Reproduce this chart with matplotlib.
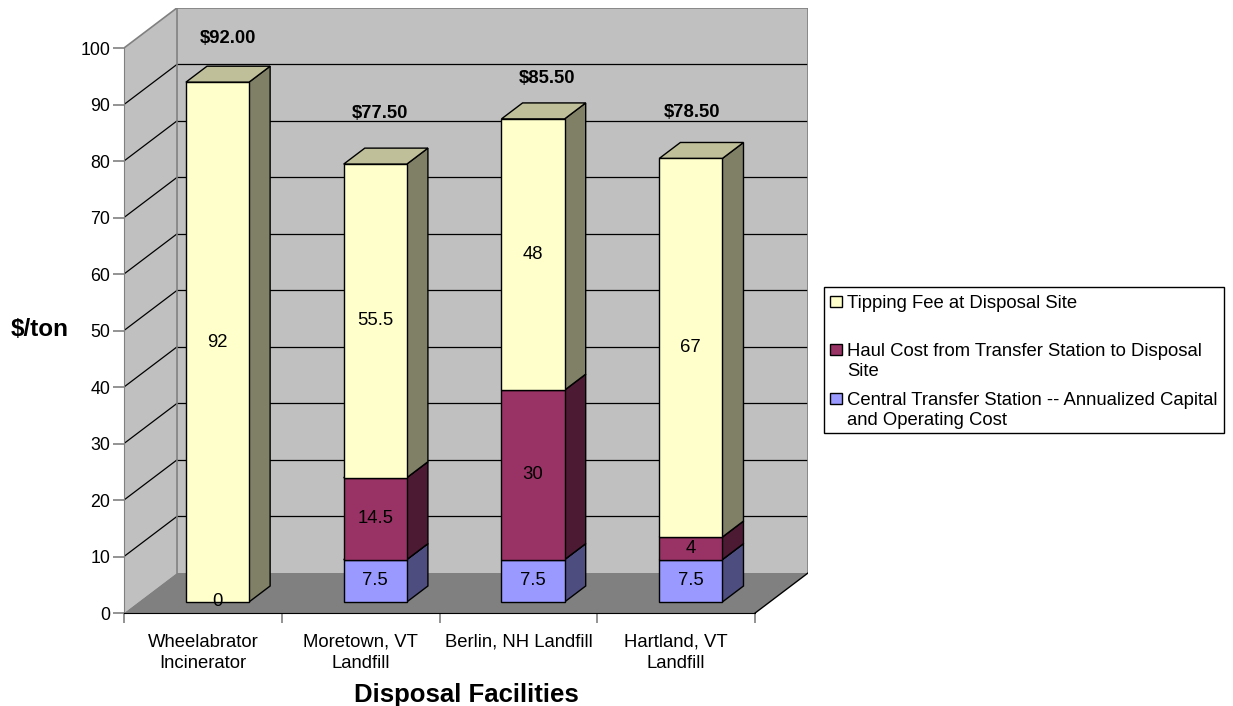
import numpy as np
import matplotlib.pyplot as plt
from matplotlib.patches import Polygon, Rectangle
from matplotlib.colors import to_rgb

plt.rcParams['font.family'] = ['Liberation Sans', 'DejaVu Sans']

categories = ["Wheelabrator\nIncinerator", "Moretown, VT\nLandfill",
              "Berlin, NH Landfill", "Hartland, VT\nLandfill"]
central = [np.nan, 7.5, 7.5, 7.5]
haul = [0, 14.5, 30, 4]
tipping = [92, 55.5, 48, 67]
series_names = ["Central Transfer Station -- Annualized Capital\nand Operating Cost",
                "Haul Cost from Transfer Station to Disposal\nSite",
                "Tipping Fee at Disposal Site"]
series_colors = ["#9999FF", "#993366", "#FFFFCC"]
y_ticks = list(range(0, 101, 10))
# where excel left the total labels (pixels from top of the front face)
total_nudge = [(11, 44), (4.5, 51), (14.5, 40), (1.5, 45.5)]

# fake 3d geometry (data units)
DX, DY = 0.335, 7.08      # full floor depth offset
BAR_W = 0.4
D0, D1 = 0.275, 0.675     # bar front / back depth fraction
W, H = 1233, 706


def shade(c, f):
    return tuple(np.clip(np.array(to_rgb(c)) * f, 0, 1))


def draw_box(ax, xc, y0, y1, color, z):
    xl = xc - BAR_W / 2 + D0 * DX
    xr = xl + BAR_W
    yb, yt = y0 + D0 * DY, y1 + D0 * DY
    ddx, ddy = (D1 - D0) * DX, (D1 - D0) * DY
    side = [(xr, yb), (xr + ddx, yb + ddy), (xr + ddx, yt + ddy), (xr, yt)]
    top = [(xl, yt), (xr, yt), (xr + ddx, yt + ddy), (xl + ddx, yt + ddy)]
    front = [(xl, yb), (xr, yb), (xr, yt), (xl, yt)]
    kw = dict(edgecolor="black", linewidth=1.0, joinstyle="miter")
    ax.add_patch(Polygon(side, closed=True, facecolor=shade(color, 0.5), zorder=z, **kw))
    ax.add_patch(Polygon(top, closed=True, facecolor=shade(color, 0.75), zorder=z, **kw))
    ax.add_patch(Polygon(front, closed=True, facecolor=color, zorder=z + 0.5, **kw))
    return (xl + xr) / 2, (yb + yt) / 2


fig = plt.figure(figsize=(W / 100, H / 100), dpi=100)
n = len(categories)
ax = fig.add_axes([124 / W, 93 / H, 684 / W, 605 / H])
ax.set_xlim(0, n + DX)
ax.set_ylim(0, 100 + DY)
ax.patch.set_visible(False)

# walls and floor
ymax = y_ticks[-1]
grey = "#808080"
ax.add_patch(Polygon([(0, 0), (0, ymax), (DX, ymax + DY), (DX, DY)],
                     facecolor="#C0C0C0", edgecolor="none", zorder=0))
ax.add_patch(Polygon([(DX, DY), (DX, ymax + DY), (n + DX, ymax + DY), (n + DX, DY)],
                     facecolor="#C0C0C0", edgecolor="none", zorder=0))
ax.add_patch(Polygon([(0, 0), (n, 0), (n + DX, DY), (DX, DY)],
                     facecolor=grey, edgecolor="none", zorder=0.5))
for v in y_ticks[1:-1]:
    ax.plot([0, DX], [v, v + DY], color="black", lw=0.9, zorder=1)
    ax.plot([DX, n + DX], [v + DY, v + DY], color="black", lw=0.9, zorder=1)
ax.plot([0, DX, n + DX, n + DX], [ymax, ymax + DY, ymax + DY, DY], color=grey, lw=1.2, zorder=1)
ax.plot([DX, DX], [DY, ymax + DY], color=grey, lw=1.2, zorder=1)
ax.plot([n, n + DX], [0, DY], color="black", lw=1.0, zorder=1)

# bars
stacks = [central, haul, tipping]
for i in range(n):
    xc = i + 0.5
    base = 0.0
    for s, (vals, col) in enumerate(zip(stacks, series_colors)):
        v = vals[i]
        if np.isnan(v):
            continue
        if v > 0:
            lx, ly = draw_box(ax, xc, base, base + v, col, 3 + s)
        else:
            lx = xc + D0 * DX
            ly = base + D0 * DY
        ax.text(lx, ly, f"{v:g}", ha="center", va="center", fontsize=13.3, zorder=20)
        base += v
    nx, ny = total_nudge[i]
    ax.annotate(f"${base:.2f}", xy=(xc + D0 * DX, base + D0 * DY), xytext=(nx, ny),
                textcoords="offset pixels", ha="center", va="center",
                fontsize=13.3, fontweight="bold", zorder=20)

# axes
for sp in ["top", "right"]:
    ax.spines[sp].set_visible(False)
ax.spines["left"].set_bounds(0, ymax)
ax.spines["left"].set_color(grey)
ax.spines["bottom"].set_bounds(0, n)
ax.spines["left"].set_zorder(2)
ax.spines["bottom"].set_zorder(2)
ax.set_yticks(y_ticks)
ax.tick_params(axis="y", direction="out", length=8, width=1.2, pad=2, labelsize=12.8,
               color=grey)
ax.set_xticks(range(n + 1))
ax.set_xticklabels([])
ax.set_xticks([i + 0.5 for i in range(n)], minor=True)
ax.set_xticklabels(categories, minor=True, fontsize=13.3, linespacing=1.3)
ax.tick_params(axis="x", which="major", direction="out", length=7.5, width=1.2, color=grey)
ax.tick_params(axis="x", which="minor", length=0, pad=15)
ax.set_xlabel("Disposal Facilities", fontsize=18.5, fontweight="bold")
ax.xaxis.set_label_coords(0.5, -0.116)
ax.set_ylabel("$/ton", fontsize=17.5, fontweight="bold", rotation=0, ha="center", va="center")
ax.yaxis.set_label_coords(-0.124, 0.469)

# legend box, laid out the way excel does it (marker on the first line)
fig.add_artist(Rectangle((824 / W, 1 - 433 / H), 400 / W, 146 / H, transform=fig.transFigure,
                         facecolor="white", edgecolor="black", linewidth=1.0))
first_baselines = [308, 356, 405]
for name, col, yb in zip(series_names[::-1], series_colors[::-1], first_baselines):
    fig.add_artist(Rectangle((830 / W, 1 - (yb - 1) / H), 12 / W, 11 / H,
                             transform=fig.transFigure, facecolor=col,
                             edgecolor="black", linewidth=1.0))
    for k, line in enumerate(name.split("\n")):
        fig.text(847 / W, 1 - (yb + 20.5 * k) / H, line, fontsize=13.3,
                 ha="left", va="baseline")

fig.savefig("out.png", dpi=100, facecolor="white")
